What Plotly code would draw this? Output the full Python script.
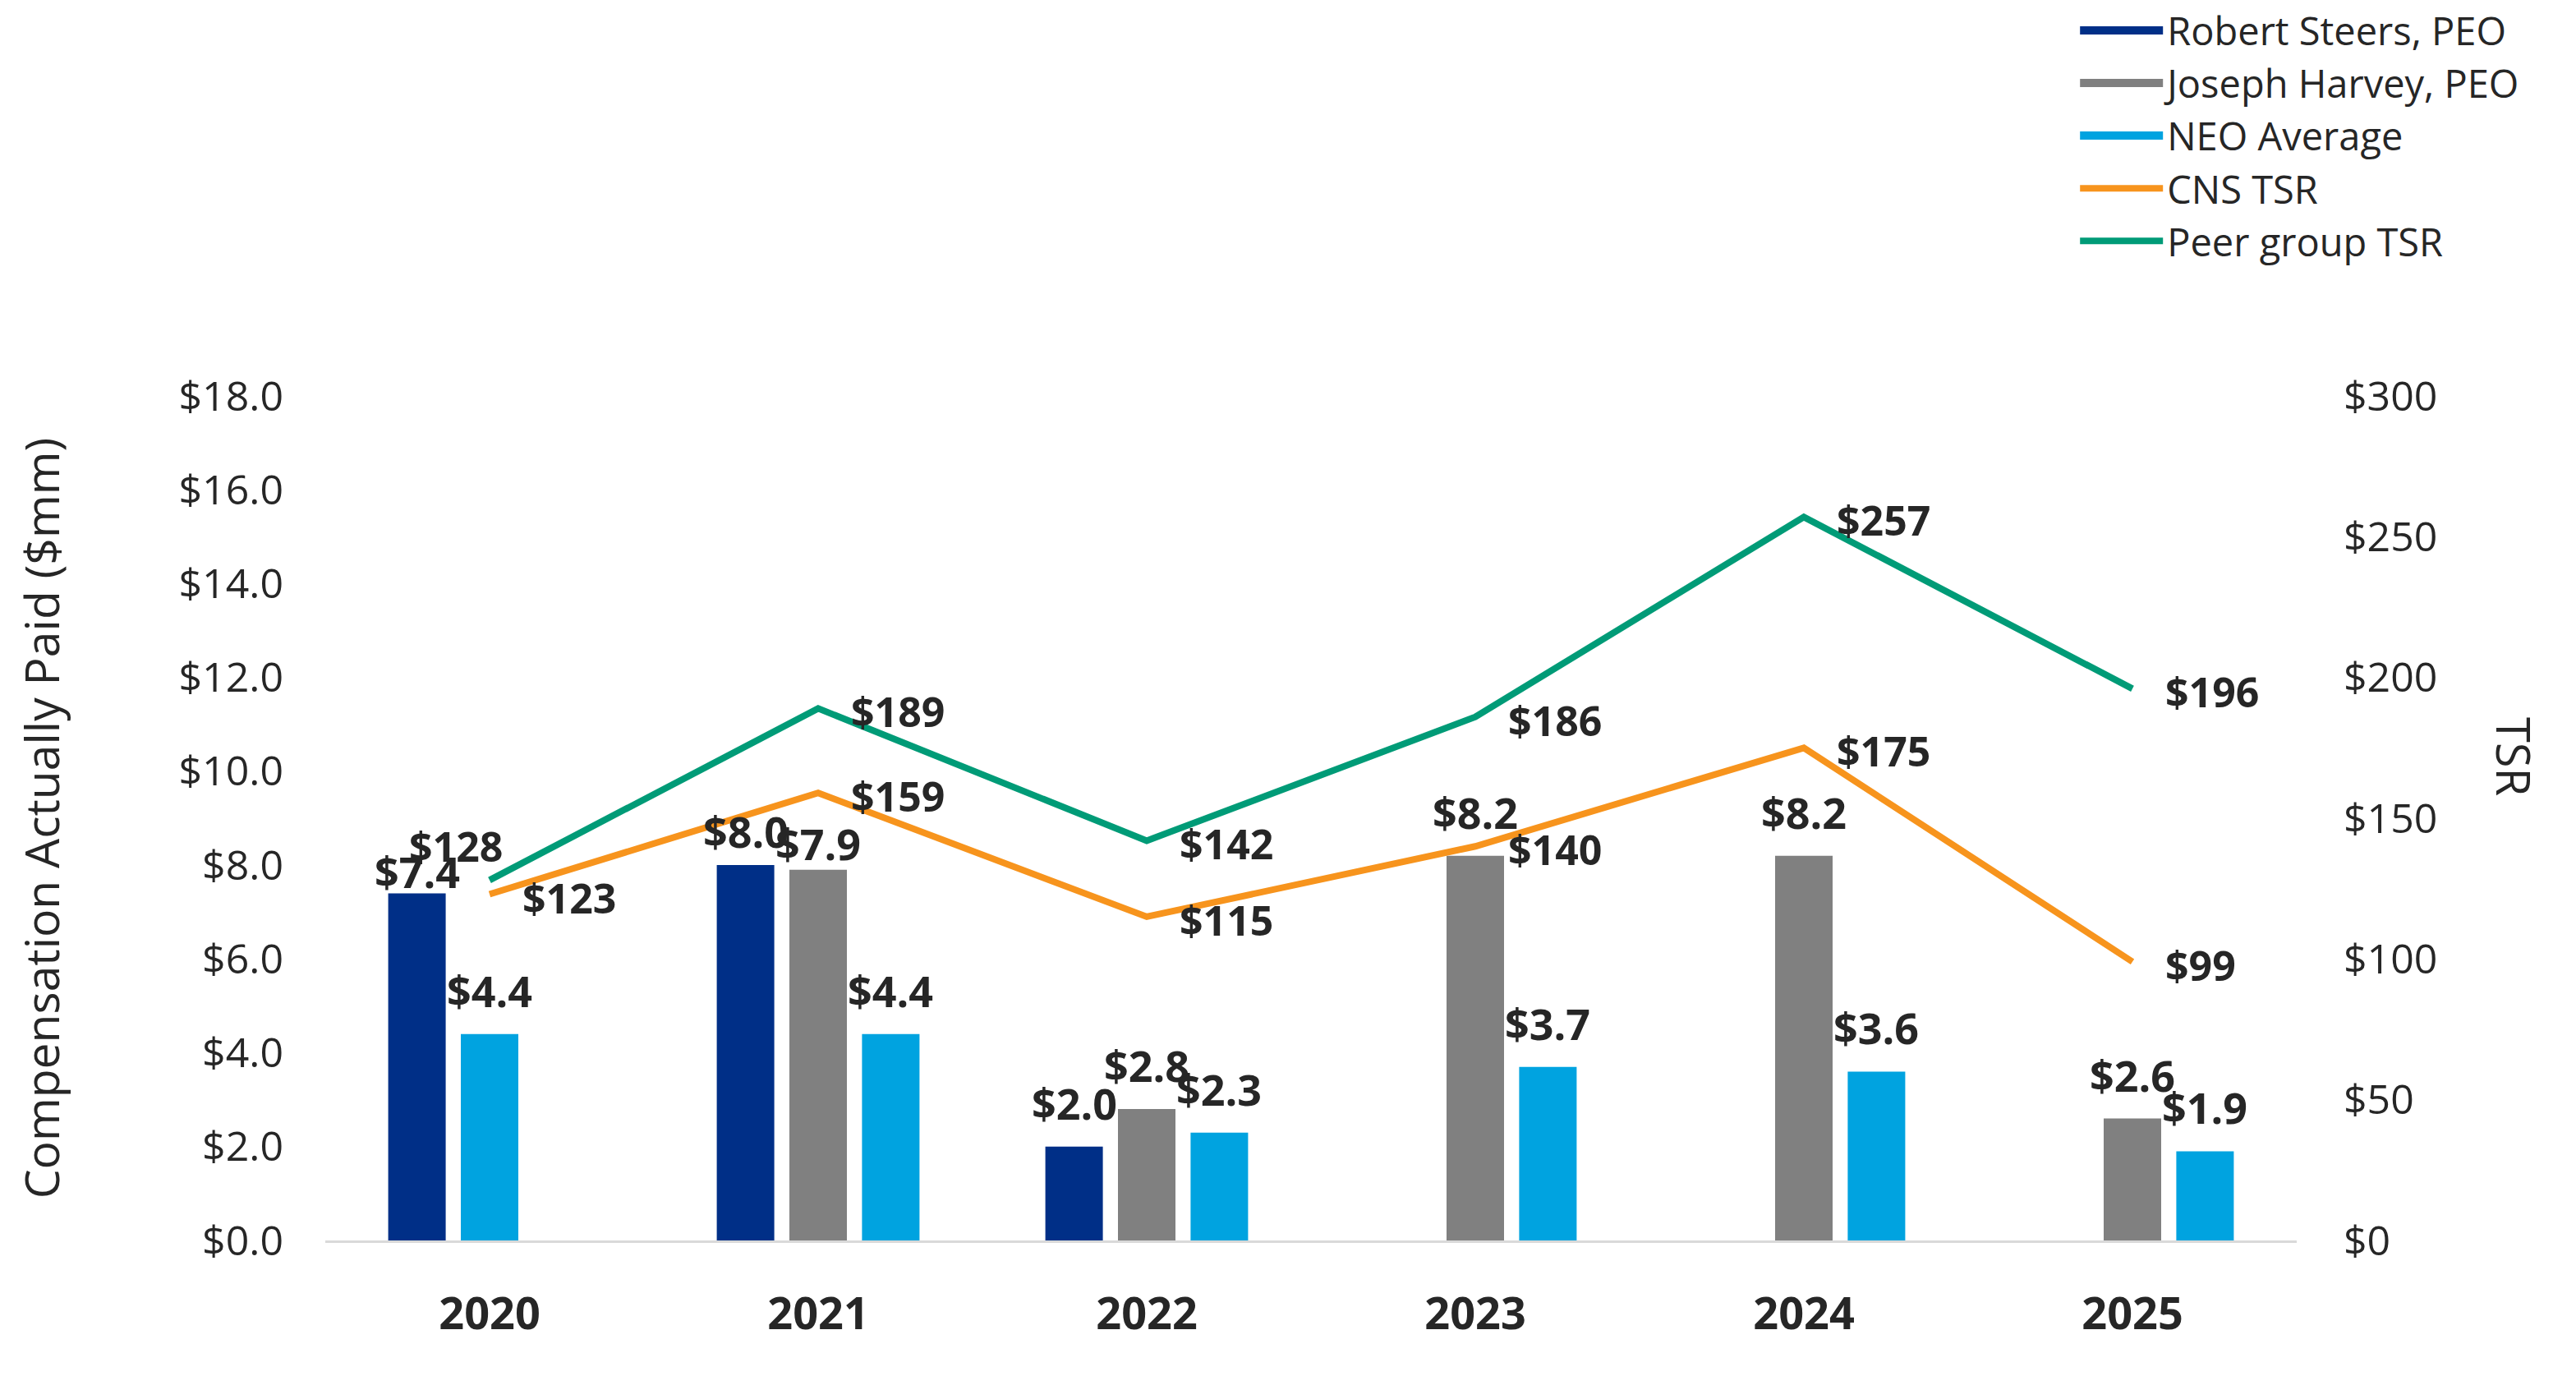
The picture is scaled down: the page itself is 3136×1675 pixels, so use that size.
import plotly.graph_objects as go

# ---------------- data ----------------
years = ["2020", "2021", "2022", "2023", "2024", "2025"]
steers_cap = [7.4, 8.0, 2.0, None, None, None]        # Robert Steers, PEO ($mm)
harvey_cap = [None, 7.9, 2.8, 8.2, 8.2, 2.6]          # Joseph Harvey, PEO ($mm)
neo_avg_cap = [4.4, 4.4, 2.3, 3.7, 3.6, 1.9]          # NEO Average ($mm)
cns_tsr = [123, 159, 115, 140, 175, 99]               # CNS TSR
peer_tsr = [128, 189, 142, 186, 257, 196]             # Peer group TSR

comp_ticks = [0, 2, 4, 6, 8, 10, 12, 14, 16, 18]
tsr_ticks = [0, 50, 100, 150, 200, 250, 300]

# ---------------- style ----------------
W, H = 3136, 1675
ML, MR, MT, MB = 396, 340, 482, 165
plot_w = W - ML - MR
cat_px = plot_w / len(years)

C_STEERS = "#002F87"
C_HARVEY = "#808080"
C_NEO = "#00A3E0"
C_CNS = "#F7941D"
C_PEER = "#009B77"
TXT = "#262626"
FONT = "Open Sans"

bar_w = 0.175
step = 0.221

# slot of each bar inside its year group (-1 left, 0 middle, +1 right)
steers_slot = [-1 for _ in years]
harvey_slot = [0 for _ in years]
neo_slot = [0 if h is None else 1 for h in harvey_cap]

def offsets(slots):
    return [s * step - bar_w / 2 for s in slots]

fig = go.Figure()
bar_series = [
    ("steers", "Robert Steers, PEO", steers_cap, steers_slot, C_STEERS),
    ("harvey", "Joseph Harvey, PEO", harvey_cap, harvey_slot, C_HARVEY),
    ("neo", "NEO Average", neo_avg_cap, neo_slot, C_NEO),
]
for key, name, vals, slots, col in bar_series:
    fig.add_trace(go.Bar(name=name, x=years, y=vals, width=bar_w, offset=offsets(slots),
                         marker=dict(color=col, line=dict(width=0)),
                         legendgroup=name, showlegend=False))
    # legend swatch (wide rectangle like the original)
    fig.add_trace(go.Scatter(name=name, x=[None], y=[None], mode="lines",
                             line=dict(color=col, width=30), legendgroup=name,
                             showlegend=True, hoverinfo="skip"))
fig.add_trace(go.Scatter(name="CNS TSR", x=years, y=cns_tsr, yaxis="y2",
                         mode="lines", line=dict(color=C_CNS, width=8)))
fig.add_trace(go.Scatter(name="Peer group TSR", x=years, y=peer_tsr, yaxis="y2",
                         mode="lines", line=dict(color=C_PEER, width=8)))

annotations = []
# bar value labels (a few sit closer to their bar, as in the original)
bar_label_dy = {("steers", 0): -11, ("steers", 1): 4, ("harvey", 1): -5}
for key, _n, vals, slots, _c in bar_series:
    for i, (v, s) in enumerate(zip(vals, slots)):
        if v is None:
            continue
        annotations.append(dict(x=i, y=v, xref="x", yref="y", text=f"${v:.1f}",
                                showarrow=False, xanchor="center", yanchor="bottom",
                                xshift=s * step * cat_px,
                                yshift=bar_label_dy.get((key, i), 16),
                                font=dict(family=FONT, size=52, color=TXT, weight="bold")))
# line value labels
label_nudge = {("peer", 0): dict(xanchor="center", xshift=-41, yshift=41)}
for key, vals in (("cns", cns_tsr), ("peer", peer_tsr)):
    for i, v in enumerate(vals):
        pos = dict(xanchor="left", xshift=38, yshift=-4)
        pos.update(label_nudge.get((key, i), {}))
        annotations.append(dict(x=i, y=v, xref="x", yref="y2", text=f"${v}",
                                showarrow=False, yanchor="middle",
                                font=dict(family=FONT, size=50, color=TXT, weight="bold"),
                                **pos))
# right axis title (reads top-to-bottom)
annotations.append(dict(text="TSR", xref="paper", yref="paper", x=1.1104, y=0.573,
                        showarrow=False, textangle=90, xanchor="center", yanchor="middle",
                        font=dict(family=FONT, size=56, color=TXT)))

fig.update_layout(
    width=W, height=H,
    margin=dict(l=ML, r=MR, t=MT, b=MB, autoexpand=False),
    paper_bgcolor="white", plot_bgcolor="white",
    barmode="overlay",
    font=dict(family=FONT, color=TXT),
    showlegend=True,
    legend=dict(x=0.888, y=1.469, xanchor="left", yanchor="top",
                font=dict(family=FONT, size=47, color=TXT),
                itemwidth=101, bgcolor="rgba(0,0,0,0)", traceorder="normal"),
    xaxis=dict(type="category", range=[-0.5, len(years) - 0.5],
               showline=True, linecolor="#D9D9D9", linewidth=3,
               showgrid=False, zeroline=False, ticks="",
               tickfont=dict(family=FONT, size=54, color=TXT, weight="bold"),
               ticklabelstandoff=40),
    yaxis=dict(range=[0, 18], tickvals=comp_ticks,
               ticktext=[f"${v:.1f}" for v in comp_ticks],
               showgrid=False, zeroline=False, showline=False, ticks="",
               tickfont=dict(family=FONT, size=50, color=TXT),
               ticklabelstandoff=50,
               title=dict(text="Compensation Actually Paid ($mm)",
                          font=dict(family=FONT, size=57, color=TXT), standoff=126)),
    yaxis2=dict(range=[0, 300], tickvals=tsr_ticks,
                ticktext=[f"${v}" for v in tsr_ticks],
                overlaying="y", side="right",
                showgrid=False, zeroline=False, showline=False, ticks="",
                tickfont=dict(family=FONT, size=50, color=TXT),
                ticklabelstandoff=56),
    annotations=annotations,
)

fig.write_html("out.html")
